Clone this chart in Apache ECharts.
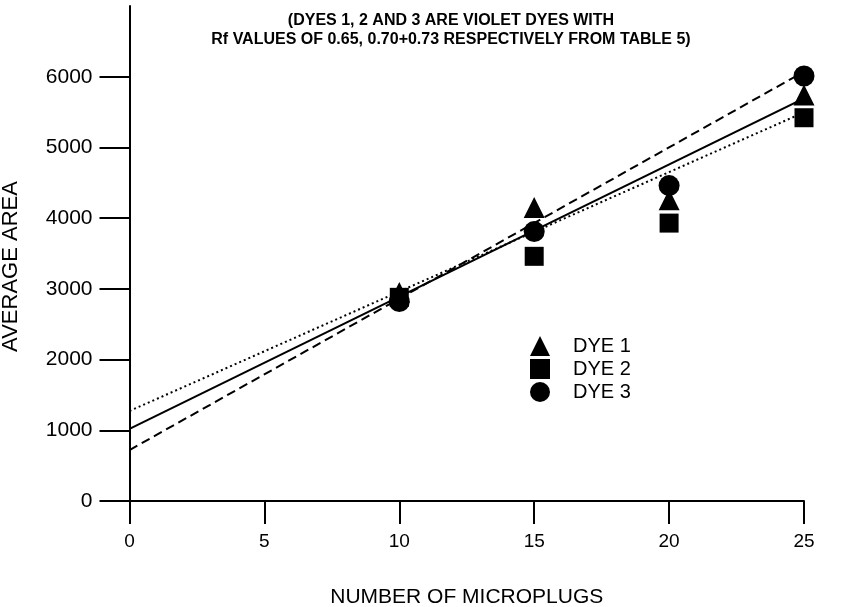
<!DOCTYPE html>
<html><head><meta charset="utf-8">
<script src="https://cdn.jsdelivr.net/npm/echarts@6/dist/echarts.min.js"></script>
<style>html,body{margin:0;padding:0;background:#fff}#c{width:851px;height:607px}</style>
</head><body><div id="c"></div>
<script>
// Data
var microplugs = [10, 15, 20, 25];
var dye1 = [2950, 4150, 4260, 5740];
var dye2 = [2880, 3460, 3930, 5420];
var dye3 = [2820, 3810, 4460, 6010];
// Fitted lines (end points)
var fitX = [0, 26.8];
var fitSolid = [1020, 6030];
var fitDashed = [721, 6456];
var fitDotted = [1273, 5800];
var xTicks = [0, 5, 10, 15, 20, 25];
var yTicks = [0, 1000, 2000, 3000, 4000, 5000, 6000];
var seriesNames = ['DYE 1', 'DYE 2', 'DYE 3'];
var noteLines = ['(DYES 1, 2 AND 3 ARE VIOLET DYES WITH', 'Rf VALUES OF 0.65, 0.70+0.73 RESPECTIVELY FROM TABLE 5)'];

function pairs(xs, ys) { return xs.map(function (x, i) { return [x, ys[i]]; }); }
var font = 'Liberation Sans, Arial, sans-serif';
var chart = echarts.init(document.getElementById('c'), null, {renderer: 'canvas'});
function lineSeries(ys, type) {
  return {type: 'line', data: pairs(fitX, ys), symbol: 'none', clip: false, silent: true,
    lineStyle: {color: '#000', width: 2, type: type, opacity: 1}, z: 2};
}
function scat(name, ys, sym, size) {
  return {type: 'scatter', name: name, data: pairs(microplugs, ys), symbol: sym, symbolSize: size,
    itemStyle: {color: '#000', opacity: 1}, z: 3};
}
chart.setOption({
  animation: false,
  backgroundColor: '#fff',
  title: {text: noteLines.join('\n'), left: 446, top: 6, textAlign: 'center',
    textStyle: {fontFamily: font, fontSize: 16, fontWeight: 'bold', color: '#000', lineHeight: 19}},
  grid: {left: 129.5, right: 47, top: 6, bottom: 106, outerBoundsMode: 'none', containLabel: false},
  legend: {orient: 'vertical', left: 525, top: 331, itemWidth: 20, itemHeight: 20, itemGap: 3,
    symbolKeepAspect: true,
    textStyle: {fontFamily: font, fontSize: 20, color: '#000', padding: [0, 0, 0, 18]},
    data: [
      {name: seriesNames[0], icon: 'triangle'},
      {name: seriesNames[1], icon: 'rect'},
      {name: seriesNames[2], icon: 'circle'}]},
  xAxis: {type: 'value', min: 0, max: 25, interval: 5,
    name: 'NUMBER OF MICROPLUGS', nameLocation: 'middle', nameGap: 86,
    nameTextStyle: {fontFamily: font, fontSize: 21, color: '#000'},
    axisLine: {lineStyle: {color: '#000', width: 2}},
    axisTick: {length: 23, lineStyle: {color: '#000', width: 2}},
    axisLabel: {margin: 31, fontFamily: font, fontSize: 19, color: '#000', customValues: xTicks},
    splitLine: {show: false}},
  yAxis: {type: 'value', min: 0, max: 7000, interval: 1000,
    name: 'AVERAGE AREA', nameLocation: 'middle', nameGap: 108, nameRotate: 90,
    nameTextStyle: {fontFamily: font, fontSize: 22, color: '#000', padding: [0, 26, 0, 0]},
    axisLine: {lineStyle: {color: '#000', width: 2}},
    axisTick: {length: 30, lineStyle: {color: '#000', width: 2}, customValues: yTicks},
    axisLabel: {margin: 37, fontFamily: font, fontSize: 21, color: '#000', customValues: yTicks,
      formatter: function (v) { return String(v); }},
    splitLine: {show: false}},
  series: [
    lineSeries(fitSolid, 'solid'),
    lineSeries(fitDashed, [9, 5]),
    lineSeries(fitDotted, [2, 3]),
    scat(seriesNames[2], dye3, 'circle', 21),
    scat(seriesNames[1], dye2, 'rect', 19),
    scat(seriesNames[0], dye1, 'triangle', 21)
  ]
});
</script></body></html>
